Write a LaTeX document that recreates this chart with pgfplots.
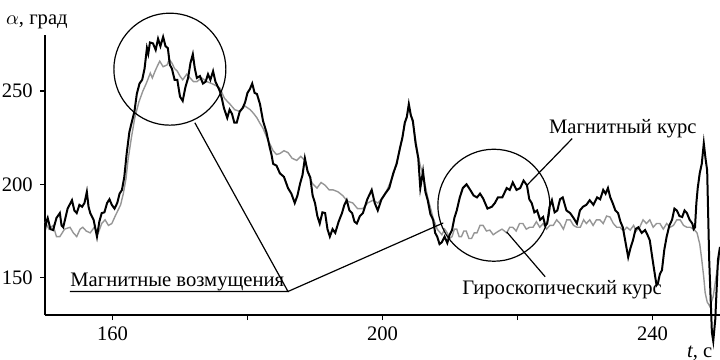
\documentclass[border=0pt]{standalone}
\usepackage{pgfplots}
\pgfplotsset{compat=1.18}
\usepackage{fontspec}
\setmainfont{Liberation Serif}
\usetikzlibrary{calc}
\definecolor{gyro}{RGB}{150,150,150}
\begin{document}
\fontsize{10.3}{12}\selectfont
\begin{tikzpicture}
\begin{axis}[name=ax, scale only axis, width=337.5pt, height=140pt,
  xmin=150, xmax=250, ymin=130, ymax=280,
  axis x line*=bottom, axis y line*=left,
  xtick={160,180,200,220,240}, xticklabels={160,,200,,240},
  ytick={150,200,250},
  tick align=outside, major tick length=2.5pt,
  /pgf/number format/assume math mode=true,
  tick label style={font=\fontsize{10.3}{12}\selectfont},
  axis line style={line width=0.8pt, black},
  tick style={line width=0.8pt, black},
  clip=false]
\addplot[gyro, line width=0.7pt] coordinates {
(150.0,180)(150.6,176)(151.2,178)(151.7,172)(152.2,172)(152.9,176)(153.7,177)(154.2,174)(154.7,172)(155.2,176)
(155.6,177)(156.1,175)(156.7,174)(157.3,177)(157.9,174)(158.4,179)(158.9,181)(159.4,178)(159.9,179)(160.4,183)
(160.8,186)(161.2,189)(161.6,195)(162.0,203)(162.3,213)(162.8,225)(163.3,235.6)(163.9,244)(164.5,250)(165.0,254)
(165.6,259.6)(165.9,257)(166.3,260.6)(166.6,263)(167.0,266)(167.5,263)(168.1,264)(168.4,267)(168.8,265)(169.2,262)
(169.6,260.6)(170.0,258)(170.4,256)(171.0,259)(171.5,257)(172.0,255)(172.5,255)(173.2,257)(174.0,255)(174.7,254)
(175.5,252.6)(175.9,251.6)(176.6,246)(177.4,243)(178.1,240)(178.9,239)(179.6,242)(180.4,240)(180.9,238)(181.4,235.6)
(181.8,233)(182.3,230)(183.0,224)(183.8,218)(184.3,216)(184.8,216.5)(185.4,218)(186.0,217)(186.6,214)(187.3,212.8)
(187.9,215)(188.5,212.8)(189.0,206)(189.6,200.5)(190.3,198)(190.9,201)(191.5,199.5)(192.1,197)(192.7,197)(193.4,196)
(194.1,194)(194.8,191)(195.6,190)(196.3,187)(197.1,187)(197.8,190)(198.6,191.5)(199.3,190)(200.1,193)(200.8,198)
(201.6,205)(202.6,219)(203.3,232)(203.9,241)(204.5,233)(204.9,224)(205.3,215)(205.6,210)(206.0,205)(206.7,193)
(207.5,182)(208.1,176)(208.8,173)(209.2,176)(209.6,174)(209.95,171)(210.3,172)(210.65,176)(211.0,176)(211.35,172)
(211.7,172)(212.05,175)(212.4,175)(212.8,171)(213.2,171)(213.6,174)(214.0,174)(214.45,178)(214.9,178)(215.4,175)
(215.9,175.5)(216.4,173)(217.0,174.5)(217.7,176)(218.4,174)(218.85,177)(219.3,177)(219.8,175)(220.3,179)(220.8,179)
(221.3,176)(221.8,177)(222.3,177)(222.8,180)(223.3,177)(223.8,179)(224.3,176)(224.8,178)(225.3,178)(225.8,181)
(226.3,179)(226.8,176)(227.3,181)(227.8,181)(228.3,178)(228.8,177)(229.3,177)(229.8,181)(230.2,179)(230.7,181)
(231.2,178)(231.7,181)(232.2,181)(232.7,179)(233.2,183)(233.7,182.5)(234.2,179)(234.7,177)(235.2,177)(235.7,175)
(236.2,177)(236.7,175.5)(237.2,178)(237.6,175)(238.1,177)(238.6,181)(239.1,179)(239.6,181)(240.1,177)(240.6,179)
(241.1,179)(241.6,176)(242.1,179)(242.6,177)(243.1,178)(243.6,181)(244.1,181)(244.6,178)(245.1,177)(245.6,177)
(246.1,176)(246.6,174)(247.0,168)(247.3,159.6)(247.6,150)(247.8,142)(248.1,137)(248.5,134.6)(249.0,140)(249.6,155)
(250.0,162)
};
\addplot[black, line width=1.0pt] coordinates {
(150.0,175.5)(150.2,180)(150.4,182)(150.8,176)(151.2,175.5)(151.7,182)(152.2,184.6)(152.45,178)(152.7,177)(153.35,187)
(154.0,191.5)(154.35,186)(154.7,184.6)(155.1,189)(155.5,188)(155.85,190)(156.2,196)(156.45,188)(156.7,184.6)(157.2,181)
(157.7,172)(158.05,180)(158.4,184.6)(158.8,185)(159.2,190)(159.55,192)(159.9,189)(160.3,187)(160.7,190)(161.05,195)
(161.4,197)(161.75,204)(162.1,216.5)(162.5,228)(162.9,234)(163.25,239)(163.6,248.4)(164.0,254)(164.4,256)(164.75,262)
(165.1,273)(165.3,270)(165.55,276)(166.0,275.5)(166.4,272)(166.75,278)(167.1,274)(167.5,279)(167.85,274)(168.2,273)
(168.5,264)(168.8,262)(169.2,256)(169.6,256)(170.0,247)(170.4,244.7)(170.8,252)(171.2,257)(171.55,265)(171.9,269.7)
(172.2,262)(172.5,257)(172.95,258)(173.4,254)(173.8,255)(174.15,259)(174.5,256)(174.9,260.6)(175.25,255)(175.9,250)
(176.2,246)(176.5,241)(177.0,235.6)(177.35,240)(177.7,237.8)(178.05,233)(178.4,233)(178.85,239)(179.3,241)(179.65,244)
(180.0,249)(180.35,251)(180.7,254)(181.05,249)(181.4,248.4)(181.85,243)(182.3,234)(182.8,228)(183.3,219.7)(183.55,216)
(183.8,211)(184.3,210)(184.8,205.9)(185.4,204)(186.0,198)(186.5,195)(187.0,190)(187.4,194)(187.8,200.5)(188.15,205)
(188.5,214)(188.9,207)(189.3,203.7)(189.65,194)(190.0,190)(190.35,183)(190.7,179)(191.1,185)(191.5,184.6)(191.85,176)
(192.2,172)(192.6,176)(193.0,174)(193.5,180)(194.0,184.6)(194.35,189)(194.7,191.5)(195.1,186)(195.5,184.6)(195.85,180)
(196.2,179)(196.65,183)(197.1,184.6)(197.75,192)(198.4,197)(198.85,190)(199.3,186)(199.85,192)(200.4,195)(201.0,198)
(201.6,206)(202.1,211)(202.6,219.7)(202.95,225)(203.3,233)(203.6,236)(203.9,243)(204.2,237)(204.5,234)(204.9,222)
(205.3,214)(205.6,198)(206.0,207)(206.35,196)(206.7,191.5)(207.1,184)(207.5,181)(207.8,174)(208.1,172)(208.45,168)
(208.8,169)(209.2,172)(209.6,168.6)(209.95,173)(210.3,175.5)(210.65,182)(211.0,186)(211.45,193)(211.9,198)(212.45,200)
(213.0,197)(213.5,194)(214.0,193)(214.45,195)(214.9,192.5)(215.55,187)(216.2,188)(216.65,190)(217.1,193)(217.75,193)
(218.4,198)(218.85,197)(219.3,201)(219.85,197)(220.4,198)(220.9,202)(221.4,199.5)(221.75,192)(222.1,190)(222.5,185)
(222.9,186)(223.35,181)(223.8,182.5)(224.1,178)(224.4,179)(224.75,188)(225.1,191.5)(225.5,185)(225.9,186)(226.3,192)
(226.7,193)(227.25,186)(227.8,184.6)(228.3,182)(228.8,179)(229.25,186)(229.7,188)(230.2,189)(230.7,191.5)(231.25,189)
(231.8,193)(232.25,192)(232.7,197)(233.05,195)(233.4,198)(233.75,193)(234.1,190)(234.5,186)(234.9,184.6)(235.25,180)
(235.6,177)(236.0,169)(236.4,161)(236.75,166)(237.1,170)(237.5,176)(237.9,177)(238.4,174)(238.9,175.5)(239.25,173)
(239.6,170)(240.0,160)(240.4,150.5)(240.6,146)(240.8,147)(241.1,152)(241.4,154)(241.75,165)(242.1,172)(242.5,178)
(242.9,181)(243.25,187)(243.6,186)(244.0,183)(244.4,182.5)(244.75,186)(245.1,184.6)(245.5,181)(245.9,179)(246.1,176)
(246.3,177)(246.5,190)(246.7,198)(247.0,206)(247.3,211)(247.6,222)(247.85,214)(248.1,207.4)(248.4,159.6)(248.8,120.7)
(249.0,116)(249.3,127.7)(249.7,159.6)(250.0,166.5)
};
% circles
\draw[line width=0.6pt] (axis cs:168.5,261.7) circle[radius=28pt];
\draw[line width=0.6pt] (axis cs:216.5,188.8) circle[radius=28pt];
% annotation lines
\draw[line width=0.6pt] (axis cs:153.7,142.6) -- (axis cs:186.0,142.6) -- (axis cs:172.2,233);
\draw[line width=0.6pt] (axis cs:186.0,142.6) -- (axis cs:209.0,179.3);
\draw[line width=0.6pt] (axis cs:228.1,224.5) -- (axis cs:221.4,199.5);
\draw[line width=0.6pt] (axis cs:218.4,174.5) -- (axis cs:224.1,150.5);
% texts
\node[anchor=base west, inner sep=0pt] at (axis cs:153.7,145.5) {Магнитные возмущения};
\node[anchor=center, inner sep=0pt] at (axis cs:235.6,229.8) {Магнитный курс};
\node[anchor=center, inner sep=0pt] at (axis cs:226.6,143.6) {Гироскопический курс};
\node[anchor=center, inner sep=0pt] at (axis cs:148.8,287) {$\alpha$, град};
\node[anchor=center, inner sep=0pt] at (axis cs:247.0,109.6) {\textit{t}, с};
\end{axis}
\pgfresetboundingbox
\path[use as bounding box] ($(ax.south west)+(-22.5pt,-22.5pt)$) rectangle ++(360pt,180pt);
\end{tikzpicture}
\end{document}
